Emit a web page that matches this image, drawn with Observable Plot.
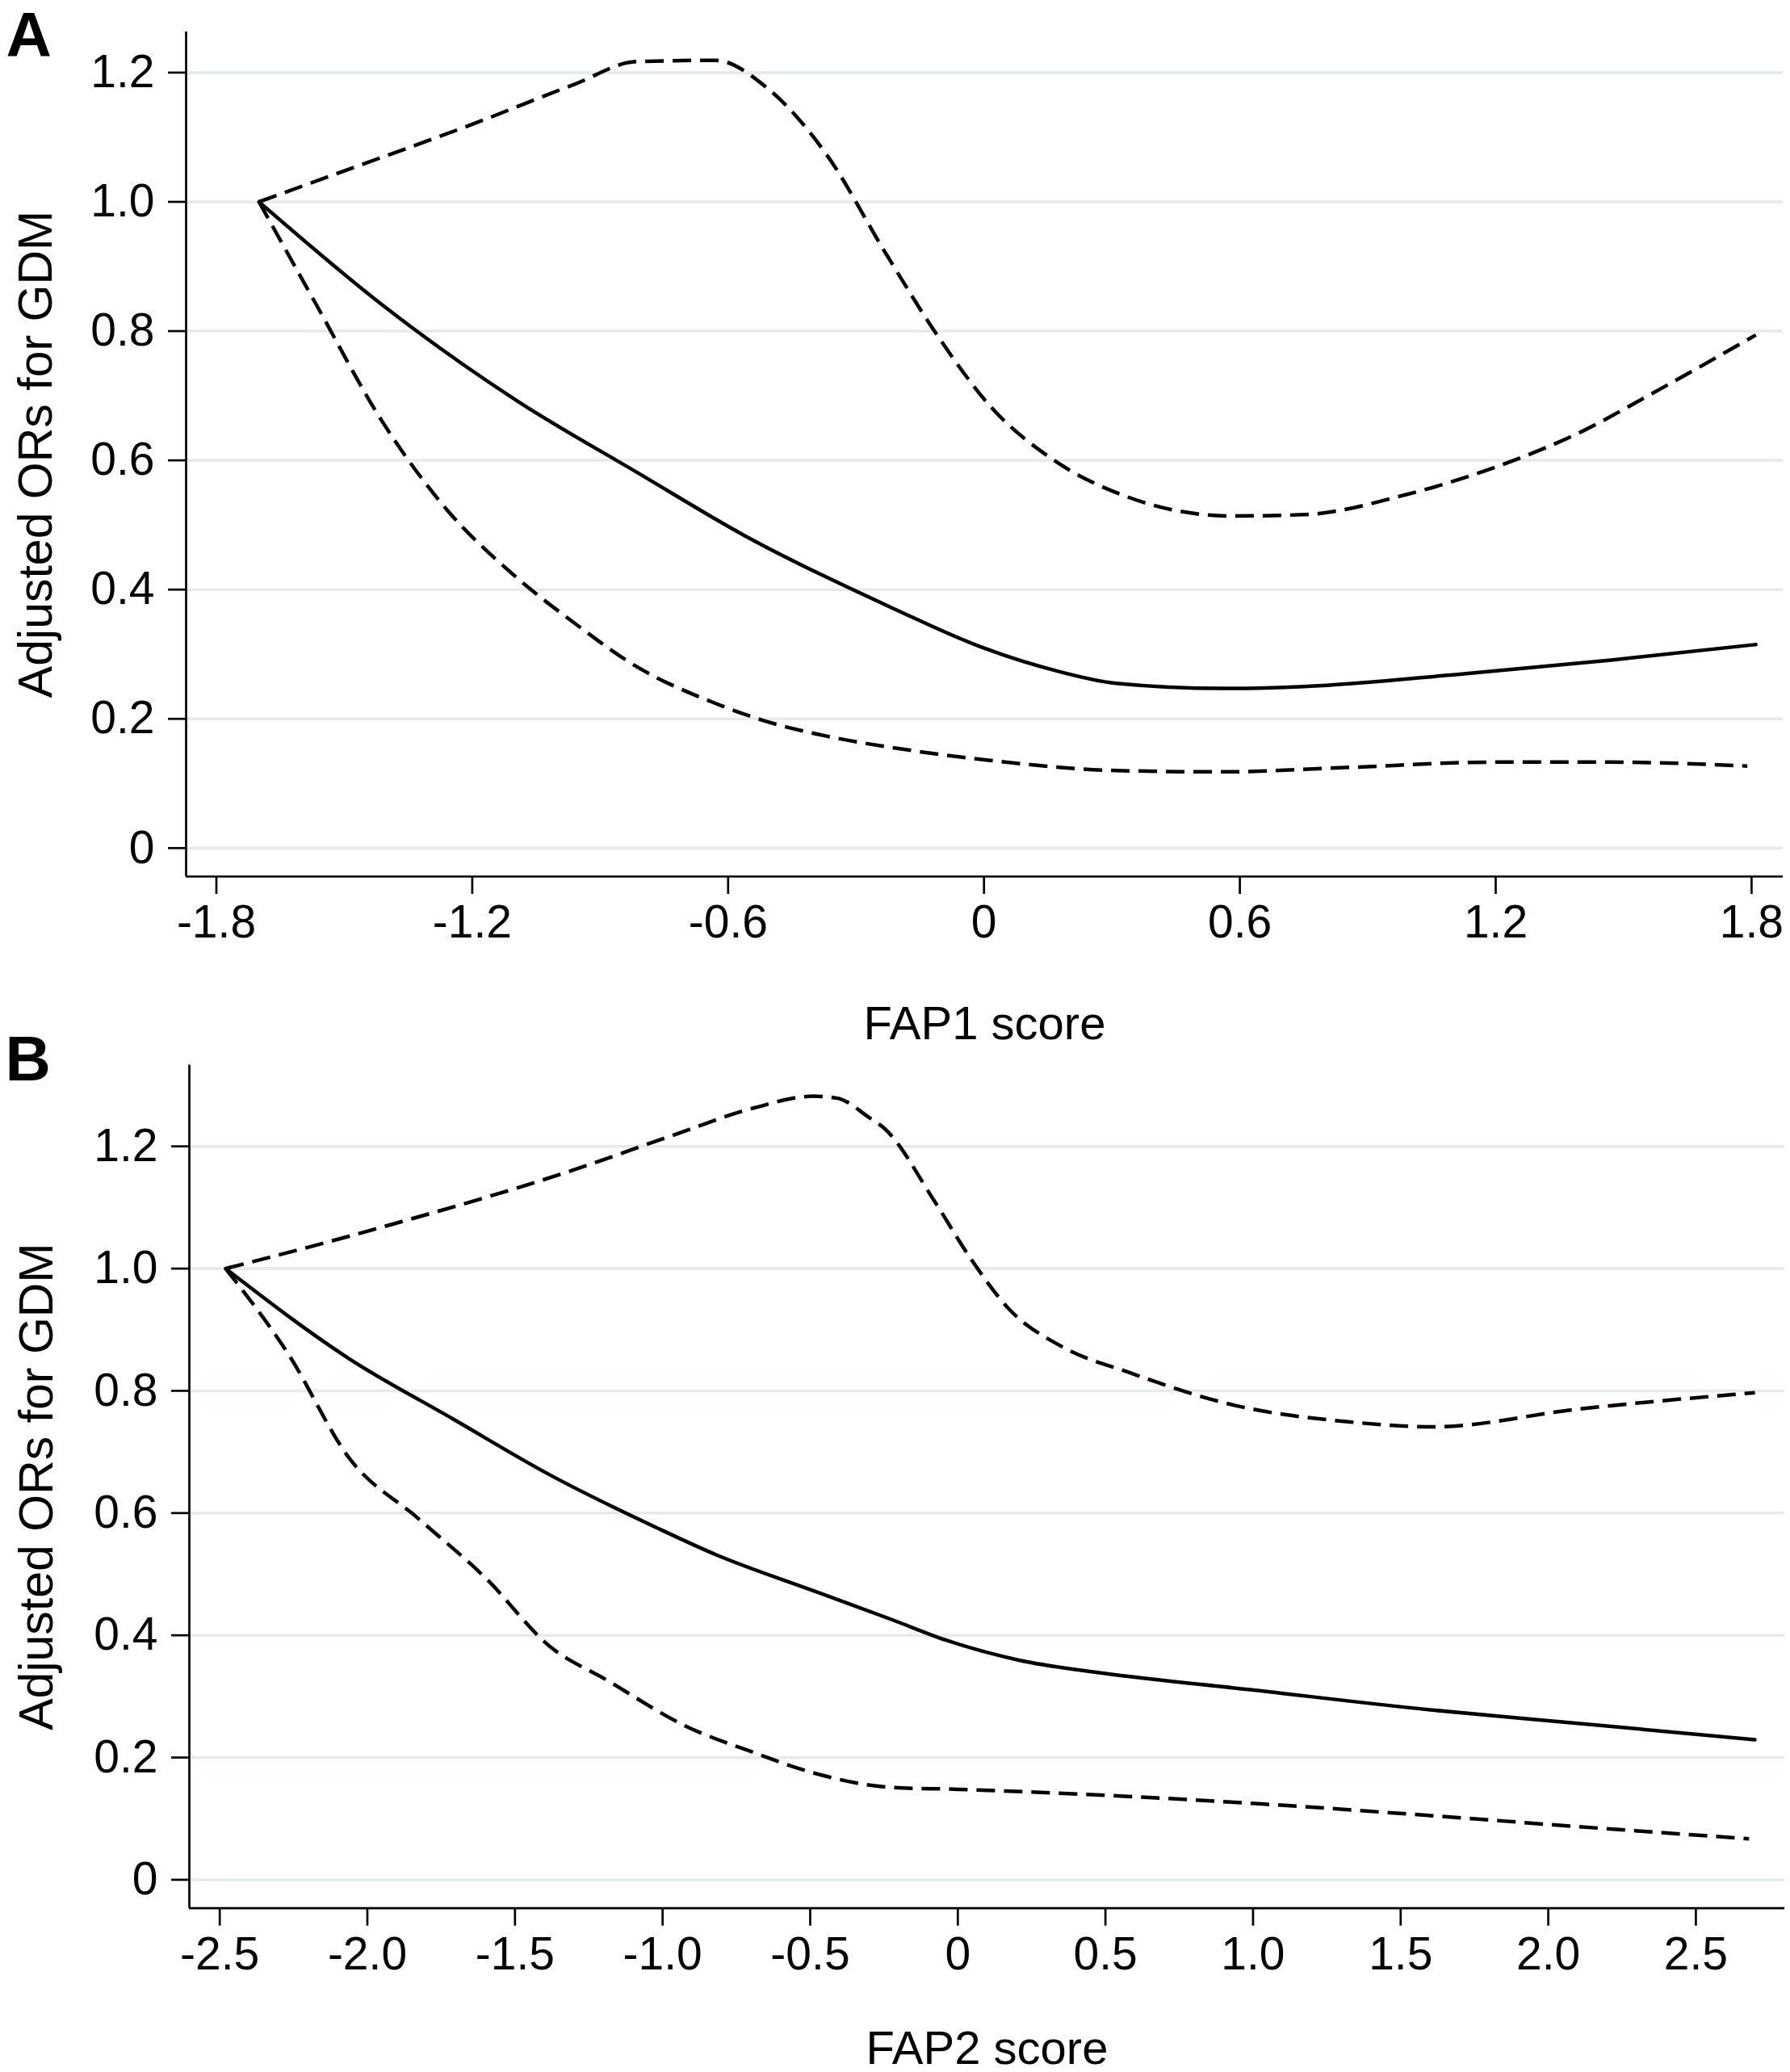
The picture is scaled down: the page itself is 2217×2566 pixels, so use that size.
<!DOCTYPE html>
<html><head><meta charset="utf-8">
<script src="https://cdn.jsdelivr.net/npm/d3@7"></script>
<script src="https://cdn.jsdelivr.net/npm/@observablehq/plot@0.6"></script>
<style>
html,body{margin:0;padding:0;background:#fff;}
#chart svg{display:block;}
</style></head><body><div id="chart"></div>
<script>
// ---- text ----
const panelLabels = ["A", "B"];
const xTitles = ["FAP1 score", "FAP2 score"];
const yTitle = "Adjusted ORs for GDM";

// ---- ticks ----
const yTickValues = [0, 0.2, 0.4, 0.6, 0.8, 1.0, 1.2];
const yTickLabels = ["0", "0.2", "0.4", "0.6", "0.8", "1.0", "1.2"];
const aTickValues = [-1.8, -1.2, -0.6, 0, 0.6, 1.2, 1.8];
const aTickLabels = ["-1.8", "-1.2", "-0.6", "0", "0.6", "1.2", "1.8"];
const bTickValues = [-2.5, -2.0, -1.5, -1.0, -0.5, 0, 0.5, 1.0, 1.5, 2.0, 2.5];
const bTickLabels = ["-2.5", "-2.0", "-1.5", "-1.0", "-0.5", "0", "0.5", "1.0", "1.5", "2.0", "2.5"];

// ---- Panel A (FAP1) ----
const aEstX = [-1.70, -1.41, -1.09, -0.81, -0.56, -0.21, -0.01, 0.16, 0.31, 0.56, 0.75, 1.13, 1.47, 1.81];
const aEstY = [1.00, 0.84, 0.69, 0.58, 0.483, 0.37, 0.312, 0.276, 0.255, 0.247, 0.250, 0.270, 0.291, 0.315];
const aUpX = [-1.70, -1.50, -1.20, -0.96, -0.815, -0.63, -0.51, -0.37, -0.23, -0.11, 0.02, 0.16, 0.33, 0.58, 0.75, 0.99, 1.21, 1.40, 1.56, 1.81];
const aUpY = [1.00, 1.048, 1.12, 1.182, 1.217, 1.219, 1.177, 1.074, 0.92, 0.794, 0.68, 0.602, 0.545, 0.514, 0.516, 0.547, 0.592, 0.644, 0.701, 0.794];
const aLoX = [-1.70, -1.57, -1.41, -1.26, -1.10, -0.96, -0.815, -0.63, -0.52, -0.36, -0.21, 0.01, 0.31, 0.56, 0.86, 1.20, 1.47, 1.79];
const aLoY = [1.00, 0.846, 0.659, 0.524, 0.421, 0.348, 0.281, 0.224, 0.198, 0.172, 0.155, 0.136, 0.120, 0.118, 0.125, 0.133, 0.133, 0.127];

// ---- Panel B (FAP2) ----
const bEstX = [-2.48, -2.06, -1.71, -1.38, -1.02, -0.82, -0.49, -0.22, -0.04, 0.21, 0.49, 0.99, 1.60, 2.10, 2.70];
const bEstY = [1.00, 0.852, 0.754, 0.662, 0.576, 0.532, 0.473, 0.425, 0.392, 0.359, 0.338, 0.311, 0.278, 0.256, 0.229];
const bUpX = [-2.48, -2.20, -1.89, -1.31, -0.96, -0.69, -0.49, -0.41, -0.30, -0.25, -0.08, 0.04, 0.175, 0.35, 0.58, 0.94, 1.33, 1.61, 2.10, 2.70];
const bUpY = [1.00, 1.035, 1.076, 1.16, 1.219, 1.263, 1.282, 1.279, 1.247, 1.23, 1.111, 1.019, 0.933, 0.873, 0.830, 0.776, 0.749, 0.741, 0.770, 0.797];
const bLoX = [-2.48, -2.27, -2.06, -1.83, -1.60, -1.38, -1.19, -0.92, -0.69, -0.49, -0.22, 0.00, 0.55, 1.03, 1.60, 2.10, 2.68];
const bLoY = [1.00, 0.862, 0.689, 0.592, 0.494, 0.381, 0.327, 0.251, 0.208, 0.175, 0.151, 0.148, 0.137, 0.124, 0.105, 0.087, 0.067];

const zip = (xs, ys) => xs.map((x, i) => ({x, y: ys[i]}));
const FONT = "'Liberation Sans', Arial, Helvetica, sans-serif";

function makePanel(cfg) {
  const yFmt = new Map(yTickValues.map((v, i) => [v, yTickLabels[i]]));
  const xFmt = new Map(cfg.xTicks.map((v, i) => [v, cfg.xLabels[i]]));
  return Plot.plot({
    width: 2217,
    height: cfg.height,
    marginLeft: cfg.marginLeft,
    marginRight: cfg.marginRight,
    marginTop: cfg.marginTop,
    marginBottom: cfg.marginBottom,
    style: {fontFamily: FONT, color: "#000", background: "#fff", overflow: "visible"},
    x: {domain: cfg.xDomain},
    y: {domain: cfg.yDomain},
    marks: [
      Plot.gridY(yTickValues, {stroke: "#e3ebeb", strokeOpacity: 1, strokeWidth: 3.5}),
      Plot.ruleX([cfg.xDomain[0]], {stroke: "#000", strokeWidth: 2.7}),
      Plot.ruleY([cfg.yDomain[0]], {stroke: "#000", strokeWidth: 2.7}),
      Plot.axisY(yTickValues, {tickSize: 22, tickPadding: 17, fontSize: 57, strokeWidth: 2.7,
        tickFormat: d => yFmt.get(d), label: null}),
      Plot.axisX(cfg.xTicks, {tickSize: 22, tickPadding: 13, fontSize: 57, strokeWidth: 2.7,
        tickFormat: d => xFmt.get(d), label: null}),
      Plot.line(zip(cfg.up[0], cfg.up[1]), {x: "x", y: "y", curve: "monotone-x", stroke: "#000", strokeWidth: 4.5,
        strokeDasharray: "23,11", strokeLinecap: "butt", strokeLinejoin: "round"}),
      Plot.line(zip(cfg.lo[0], cfg.lo[1]), {x: "x", y: "y", curve: "monotone-x", stroke: "#000", strokeWidth: 4.5,
        strokeDasharray: "23,11", strokeLinecap: "butt", strokeLinejoin: "round"}),
      Plot.line(zip(cfg.est[0], cfg.est[1]), {x: "x", y: "y", curve: "monotone-x", stroke: "#000", strokeWidth: 4.5}),
      Plot.text([cfg.xTitle], {frameAnchor: "bottom", dy: cfg.xTitleDy, lineAnchor: "bottom",
        textAnchor: "middle", fontSize: 58, fill: "#000"}),
      Plot.text([yTitle], {frameAnchor: "left", dx: cfg.yTitleDx, rotate: -90, lineAnchor: "bottom",
        textAnchor: "middle", fontSize: 59, fill: "#000"}),
      Plot.text([cfg.panel], {frameAnchor: "top-left", dx: cfg.panelDx, dy: cfg.panelDy, lineAnchor: "bottom",
        textAnchor: "start", fontSize: 78, fontWeight: "bold", fill: "#000"})
    ]
  });
}

const chart = document.getElementById("chart");
chart.append(makePanel({
  panel: panelLabels[0], xTitle: xTitles[0],
  height: 1300, marginLeft: 230, marginRight: 9, marginTop: 39, marginBottom: 215,
  xDomain: [-1.871, 1.874], yDomain: [-0.044, 1.263],
  xTicks: aTickValues, xLabels: aTickLabels,
  est: [aEstX, aEstY], up: [aUpX, aUpY], lo: [aLoX, aLoY],
  xTitleDy: 201, yTitleDx: -167, panelDx: -223, panelDy: 30
}));
chart.append(makePanel({
  panel: panelLabels[1], xTitle: xTitles[1],
  height: 1266, marginLeft: 234, marginRight: 7, marginTop: 18.5, marginBottom: 203.3,
  xDomain: [-2.603, 2.801], yDomain: [-0.0466, 1.333],
  xTicks: bTickValues, xLabels: bTickLabels,
  est: [bEstX, bEstY], up: [bUpX, bUpY], lo: [bLoX, bLoY],
  xTitleDy: 193, yTitleDx: -170, panelDx: -228, panelDy: 18.5
}));
</script></body></html>
